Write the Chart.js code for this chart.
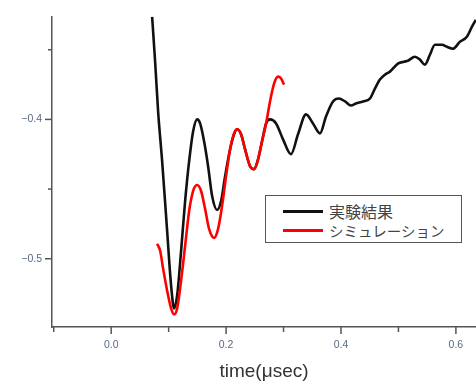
<!DOCTYPE html>
<html>
<head>
<meta charset="utf-8">
<script src="https://cdn.jsdelivr.net/npm/chart.js@4.4.1/dist/chart.umd.min.js"></script>
<style>
  html, body { margin: 0; padding: 0; background: #fff; }
  #wrap { position: relative; width: 476px; height: 382px; }
  #legend {
    position: absolute; left: 265px; top: 195px; width: 195px; height: 46px;
    border: 1.5px solid #555; background: #fff;
    font-family: "Noto Sans CJK JP", sans-serif; color: #444;
  }
  .row { position: absolute; left: 0; height: 20px; display: flex; align-items: center; }
  .swatch { display: inline-block; width: 40px; height: 3px; margin-left: 17px; margin-right: 6px; }
</style>
</head>
<body>
<div id="wrap">
  <canvas id="chart" width="476" height="382"></canvas>
  <div id="legend">
    <div class="row" style="top:5px"><span class="swatch" style="background:#111"></span><span style="font-size:16px">実験結果</span></div>
    <div class="row" style="top:24px"><span class="swatch" style="background:#f00"></span><span style="font-size:14.5px">シミュレーション</span></div>
  </div>
</div>
<script>
// measured waveform (black) and simulation (red), time in µsec
const expTime = [0.0713, 0.0765, 0.0817, 0.0887, 0.0974, 0.1043, 0.1096, 0.1148, 0.1217, 0.1287,
  0.1357, 0.1426, 0.1496, 0.1548, 0.1617, 0.1687, 0.1757, 0.1843, 0.1913, 0.1983,
  0.2070, 0.2139, 0.2191, 0.2261, 0.2330, 0.2417, 0.2487, 0.2557, 0.2626, 0.2696,
  0.2765, 0.2870, 0.2991, 0.3130, 0.3252, 0.3391, 0.3513, 0.3635, 0.3739, 0.3861,
  0.3965, 0.4070, 0.4174, 0.4261, 0.4383, 0.4504, 0.4591, 0.4678, 0.4765, 0.4852,
  0.4991, 0.5096, 0.5165, 0.5287, 0.5374, 0.5461, 0.5548, 0.5635, 0.5757, 0.5843,
  0.5948, 0.6070, 0.6191, 0.6278, 0.6348];
const expValue = [-0.3264, -0.3586, -0.3943, -0.4300, -0.4800, -0.5193, -0.5357, -0.5264, -0.4943, -0.4586,
  -0.4300, -0.4086, -0.4000, -0.4029, -0.4157, -0.4336, -0.4550, -0.4650, -0.4586, -0.4407,
  -0.4214, -0.4107, -0.4071, -0.4107, -0.4214, -0.4336, -0.4357, -0.4286, -0.4157, -0.4029,
  -0.4000, -0.4029, -0.4143, -0.4250, -0.4107, -0.3964, -0.4029, -0.4100, -0.3979, -0.3871,
  -0.3850, -0.3871, -0.3900, -0.3886, -0.3871, -0.3850, -0.3779, -0.3714, -0.3679, -0.3657,
  -0.3600, -0.3586, -0.3579, -0.3550, -0.3571, -0.3607, -0.3536, -0.3464, -0.3464, -0.3479,
  -0.3493, -0.3443, -0.3407, -0.3336, -0.3286];

const simTime = [0.0800, 0.0852, 0.0904, 0.0974, 0.1043, 0.1096, 0.1148, 0.1217, 0.1287, 0.1357,
  0.1426, 0.1496, 0.1565, 0.1635, 0.1704, 0.1791, 0.1861, 0.1930, 0.2000, 0.2070,
  0.2139, 0.2191, 0.2261, 0.2330, 0.2417, 0.2487, 0.2557, 0.2626, 0.2696, 0.2765,
  0.2835, 0.2904, 0.2957, 0.3009];
const simValue = [-0.4893, -0.4943, -0.5071, -0.5229, -0.5357, -0.5400, -0.5357, -0.5157, -0.4907, -0.4657,
  -0.4514, -0.4471, -0.4514, -0.4643, -0.4786, -0.4850, -0.4786, -0.4621, -0.4407, -0.4214,
  -0.4100, -0.4071, -0.4107, -0.4214, -0.4336, -0.4357, -0.4286, -0.4157, -0.4029, -0.3871,
  -0.3743, -0.3693, -0.3707, -0.3750];

const xLabelStep = 0.2;
const yLabelStep = 0.1;

function toPoints(xs, ys) {
    return xs.map((x, i) => ({ x: x, y: ys[i] }));
}

function isMajor(v, step) {
    return Math.abs(Math.round(v / step) * step - v) < 1e-6;
}

// short outward tick marks, longer on labelled values
const tickMarks = {
    id: 'tickMarks',
    afterDraw(chart) {
        const ctx = chart.ctx;
        const xs = chart.scales.x, ys = chart.scales.y;
        ctx.save();
        ctx.strokeStyle = '#555';
        ctx.lineWidth = 1.5;
        xs.ticks.forEach(t => {
            const px = xs.getPixelForValue(t.value);
            const len = isMajor(t.value, xLabelStep) ? 7 : 5;
            ctx.beginPath();
            ctx.moveTo(px, xs.top);
            ctx.lineTo(px, xs.top + len);
            ctx.stroke();
        });
        ys.ticks.forEach(t => {
            const py = ys.getPixelForValue(t.value);
            const len = isMajor(t.value, yLabelStep) ? 7 : 4;
            ctx.beginPath();
            ctx.moveTo(ys.right, py);
            ctx.lineTo(ys.right - len, py);
            ctx.stroke();
        });
        ctx.restore();
    }
};

new Chart(document.getElementById('chart'), {
    type: 'line',
    data: {
        datasets: [
            {
                label: '実験結果',
                data: toPoints(expTime, expValue),
                borderColor: '#111',
                borderWidth: 2.6,
                pointRadius: 0,
                cubicInterpolationMode: 'monotone',
                order: 1
            },
            {
                label: 'シミュレーション',
                data: toPoints(simTime, simValue),
                borderColor: '#ff0000',
                borderWidth: 2.6,
                pointRadius: 0,
                cubicInterpolationMode: 'monotone',
                order: 0
            }
        ]
    },
    options: {
        responsive: false,
        animation: false,
        layout: { padding: { top: 15, right: 0, left: 0, bottom: 0 } },
        plugins: { legend: { display: false }, tooltip: { enabled: false } },
        scales: {
            x: {
                type: 'linear',
                min: -0.103,
                max: 0.635,
                afterFit: s => { s.height = 55; },
                grid: { display: false, drawTicks: false },
                border: { display: true, color: '#555', width: 1.5 },
                ticks: {
                    stepSize: 0.1,
                    includeBounds: false,
                    autoSkip: false,
                    maxRotation: 0,
                    padding: 12,
                    color: '#5a6a82',
                    font: { family: 'Liberation Sans', size: 10.5 },
                    callback: v => isMajor(v, xLabelStep) ? v.toFixed(1) : ''
                },
                title: {
                    display: true,
                    text: 'time(μsec)',
                    color: '#333',
                    font: { family: 'Liberation Sans', size: 19 },
                    padding: { top: 0, bottom: -1 }
                }
            },
            y: {
                min: -0.549,
                max: -0.326,
                afterFit: s => { s.width = 52; },
                grid: { display: false, drawTicks: false },
                border: { display: true, color: '#555', width: 1.5 },
                ticks: {
                    stepSize: 0.05,
                    includeBounds: false,
                    autoSkip: false,
                    padding: 10,
                    color: '#5a6a82',
                    font: { family: 'Liberation Sans', size: 10.5 },
                    callback: v => isMajor(v, yLabelStep) ? '\u2212' + Math.abs(v).toFixed(1) : ''
                }
            }
        }
    },
    plugins: [tickMarks]
});
</script>
</body>
</html>
